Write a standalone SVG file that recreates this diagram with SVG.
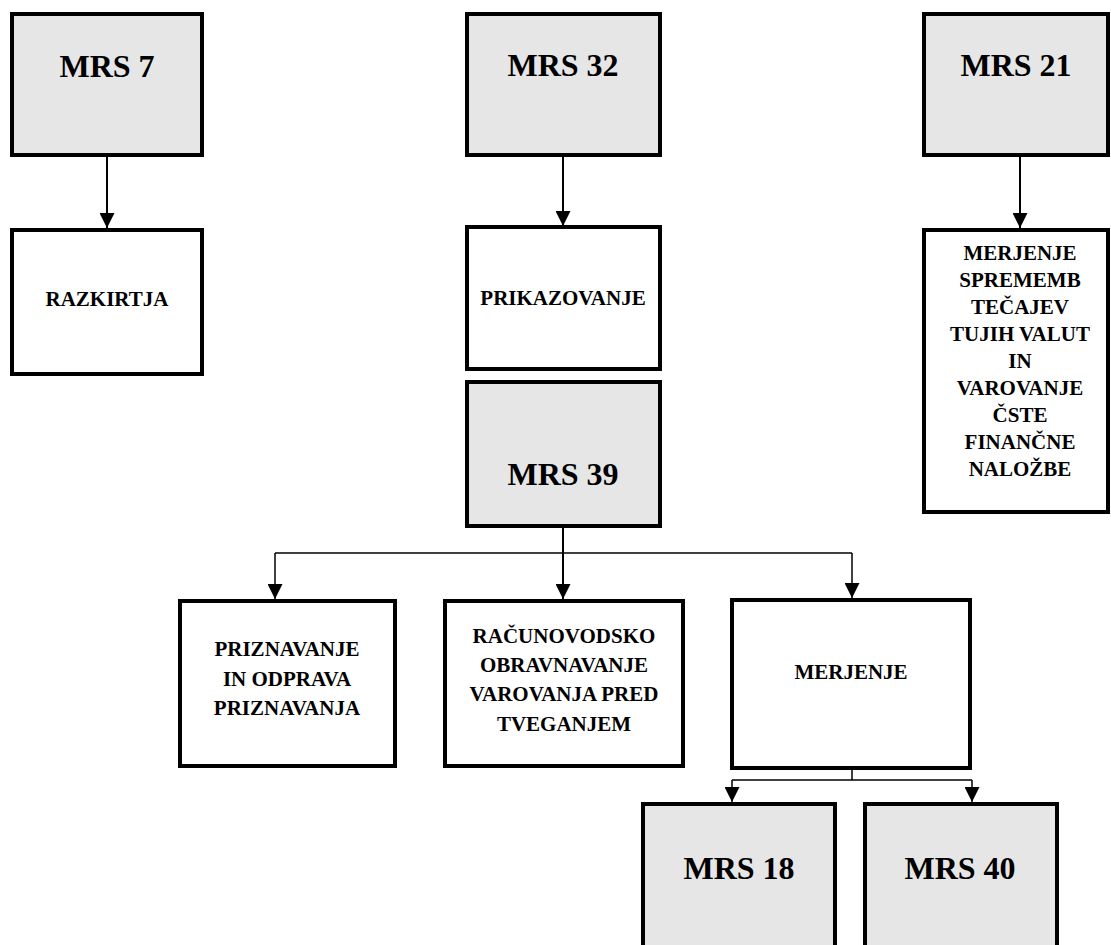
<svg xmlns="http://www.w3.org/2000/svg" width="1111" height="945" viewBox="0 0 1111 945">
<style>
.box{stroke:#000;stroke-width:4}
.g{fill:#e6e6e6}
.w{fill:#fff}
.t{font-family:"Liberation Serif","Times New Roman",serif;font-weight:bold;fill:#000;text-anchor:middle}
.big{font-size:32px}
.sm{font-size:21px}
.c{stroke:#000;fill:none}
.v{stroke-width:2}
.h{stroke-width:1.5}
</style>
<defs>
<marker id="ah" viewBox="0 0 10 10" refX="10" refY="5" markerWidth="7.5" markerHeight="7.5" markerUnits="strokeWidth" orient="auto">
<path d="M0,0 L10,5 L0,10 z" fill="#000"/>
</marker>
<marker id="ah2" viewBox="0 0 10 10" refX="10" refY="5" markerWidth="10" markerHeight="10" markerUnits="strokeWidth" orient="auto">
<path d="M0,0 L10,5 L0,10 z" fill="#000"/>
</marker>
</defs>
<rect width="1111" height="945" fill="#fff"/>
<g id="connectors">
<line class="c v" x1="107" y1="157" x2="107" y2="228" marker-end="url(#ah)"/>
<line class="c v" x1="563" y1="157" x2="563" y2="226" marker-end="url(#ah)"/>
<line class="c v" x1="1020" y1="157" x2="1020" y2="228" marker-end="url(#ah)"/>
<line class="c v" x1="563" y1="527" x2="563" y2="599" marker-end="url(#ah)"/>
<polyline class="c h" points="275,553 852,553"/>
<line class="c h" x1="275" y1="553" x2="275" y2="599" marker-end="url(#ah2)"/>
<line class="c h" x1="852" y1="553" x2="852" y2="598" marker-end="url(#ah2)"/>
<line class="c h" x1="852" y1="770" x2="852" y2="780"/>
<polyline class="c h" points="732,780 972,780"/>
<line class="c h" x1="732" y1="780" x2="732" y2="802" marker-end="url(#ah2)"/>
<line class="c h" x1="972" y1="780" x2="972" y2="802" marker-end="url(#ah2)"/>
</g>
<g id="mrs7">
<rect class="box g" x="12" y="14" width="190" height="141"/>
<text class="t big" x="107" y="77">MRS 7</text>
</g>
<g id="razkritja">
<rect class="box w" x="12" y="230" width="190" height="144"/>
<text class="t sm" x="107" y="306">RAZKIRTJA</text>
</g>
<g id="mrs32">
<rect class="box g" x="467" y="14" width="193" height="141"/>
<text class="t big" x="563" y="76">MRS 32</text>
</g>
<g id="prikazovanje">
<rect class="box w" x="467" y="227" width="193" height="142"/>
<text class="t sm" x="563" y="305">PRIKAZOVANJE</text>
</g>
<g id="mrs39">
<rect class="box g" x="467" y="382" width="193" height="144"/>
<text class="t big" x="563" y="485">MRS 39</text>
</g>
<g id="mrs21">
<rect class="box g" x="924" y="14" width="184" height="141"/>
<text class="t big" x="1016" y="76">MRS 21</text>
</g>
<g id="merjenje-sprememb">
<rect class="box w" x="924" y="230" width="184" height="282"/>
<text class="t sm" x="1020" y="260">MERJENJE</text>
<text class="t sm" x="1020" y="287">SPREMEMB</text>
<text class="t sm" x="1020" y="314">TEČAJEV</text>
<text class="t sm" x="1020" y="341">TUJIH VALUT</text>
<text class="t sm" x="1020" y="368">IN</text>
<text class="t sm" x="1020" y="395">VAROVANJE</text>
<text class="t sm" x="1020" y="422">ČSTE</text>
<text class="t sm" x="1020" y="449">FINANČNE</text>
<text class="t sm" x="1020" y="476">NALOŽBE</text>
</g>
<g id="priznavanje">
<rect class="box w" x="180" y="601" width="215" height="165"/>
<text class="t sm" x="287" y="656">PRIZNAVANJE</text>
<text class="t sm" x="287" y="686">IN ODPRAVA</text>
<text class="t sm" x="287" y="715">PRIZNAVANJA</text>
</g>
<g id="racunovodsko">
<rect class="box w" x="445" y="601" width="238" height="165"/>
<text class="t sm" x="564" y="643">RAČUNOVODSKO</text>
<text class="t sm" x="564" y="672">OBRAVNAVANJE</text>
<text class="t sm" x="564" y="701">VAROVANJA PRED</text>
<text class="t sm" x="564" y="731">TVEGANJEM</text>
</g>
<g id="merjenje">
<rect class="box w" x="732" y="600" width="238" height="168"/>
<text class="t sm" x="851" y="679">MERJENJE</text>
</g>
<g id="mrs18">
<rect class="box g" x="643" y="804" width="192" height="160"/>
<text class="t big" x="739" y="879">MRS 18</text>
</g>
<g id="mrs40">
<rect class="box g" x="865" y="804" width="192" height="160"/>
<text class="t big" x="960" y="879">MRS 40</text>
</g>
</svg>
